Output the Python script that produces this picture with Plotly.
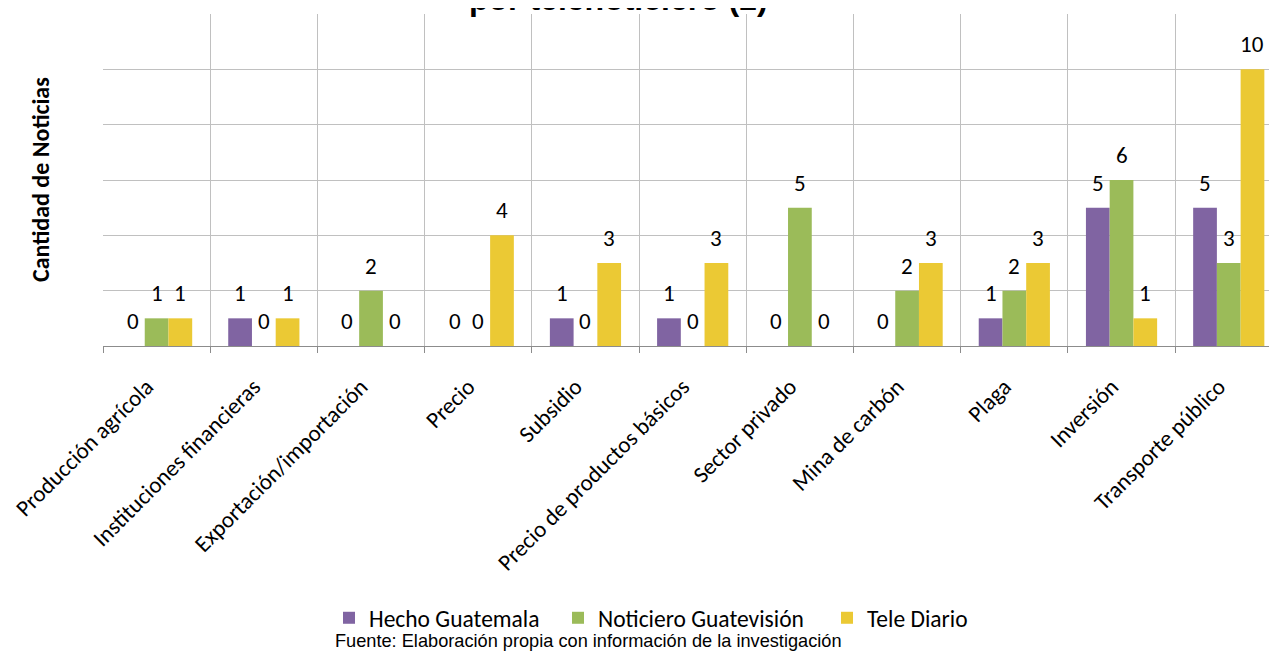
import plotly.graph_objects as go

categories = ["Producción agrícola", "Instituciones financieras", "Exportación/importación",
              "Precio", "Subsidio", "Precio de productos básicos", "Sector privado",
              "Mina de carbón", "Plaga", "Inversión", "Transporte público"]
series_names = ["Hecho Guatemala", "Noticiero Guatevisión", "Tele Diario"]
hecho_guatemala = [0, 1, 0, 0, 1, 1, 0, 0, 1, 5, 5]
noticiero_guatevision = [1, 0, 2, 0, 0, 0, 5, 2, 2, 6, 3]
tele_diario = [1, 1, 0, 4, 3, 3, 0, 3, 3, 1, 10]
colors = ["#8064A2", "#9BBB59", "#EBC934"]
legend_widths = [184, 224, 110]

title_text = "<b>por telenoticiero (2)</b>"
y_title = "<b>Cantidad de Noticias</b>"
source_text = "Fuente: Elaboración propia con información de la investigación"

OFF = 8  # default page body margin
W, H = 1277 - OFF, 654 - OFF
ML, MR, MT, MB = 103 - OFF, 0, 14 - OFF, 654 - 346
BARGAP = 0.336
XRANGE = [-0.5, 10.45]

CAL = "Calibri, Carlito, Lato, sans-serif"
ARIAL = "Arial, Liberation Sans, sans-serif"

fig = go.Figure()
all_series = [hecho_guatemala, noticiero_guatevision, tele_diario]
for name, vals, col, lw in zip(series_names, all_series, colors, legend_widths):
    fig.add_trace(go.Bar(x=categories, y=vals, name=name, legendwidth=lw,
                         marker=dict(color=col, line=dict(width=0))))

plot_w = W - ML - MR
plot_h = H - MT - MB
cat_w = plot_w / (XRANGE[1] - XRANGE[0])
bar_w = cat_w * (1 - BARGAP) / 3


def px_x(page_x):
    return (page_x - OFF - ML) / plot_w


def px_y(page_y):
    return (H - MB - (page_y - OFF)) / plot_h


annotations = []
for si, vals in enumerate(all_series):
    for c, v in zip(categories, vals):
        annotations.append(dict(x=c, y=v, xref="x", yref="y", text=str(v), showarrow=False,
                                xshift=(si - 1) * bar_w, yshift=25, yanchor="middle",
                                font=dict(family=CAL, size=23, color="#000000")))

annotations.append(dict(x=px_x(618), y=1, xref="paper", yref="paper", text=title_text,
                        showarrow=False, xanchor="center", yanchor="bottom", yshift=-5,
                        font=dict(family=ARIAL, size=32, color="#000000")))
annotations.append(dict(x=px_x(40), y=0.5, xref="paper", yref="paper", text=y_title,
                        showarrow=False, textangle=-90, xanchor="center", yanchor="middle",
                        font=dict(family=CAL, size=24, color="#000000")))
annotations.append(dict(x=px_x(588), y=px_y(641), xref="paper", yref="paper",
                        text=source_text, showarrow=False, xanchor="center", yanchor="middle",
                        font=dict(family=ARIAL, size=18.2, color="#000000")))

fig.update_layout(
    width=W, height=H,
    margin=dict(l=ML, r=MR, t=MT, b=MB),
    paper_bgcolor="white", plot_bgcolor="white",
    barmode="group", bargap=BARGAP, bargroupgap=0,
    showlegend=True,
    legend=dict(orientation="h", x=px_x(329), xanchor="left",
                y=px_y(618), yanchor="middle",
                font=dict(family=CAL, size=23.5, color="#000000"), bgcolor="rgba(0,0,0,0)"),
    annotations=annotations,
    xaxis=dict(type="category", range=XRANGE, tickson="boundaries", showgrid=True,
               gridcolor="#C0C0C0", gridwidth=1.3, showline=True, linecolor="#8C8C8C", linewidth=1.3,
               ticks="outside", ticklen=6, tickcolor="#8C8C8C", tickwidth=1.3, tickangle=-45,
               ticklabelshift=-10, ticklabelstandoff=17,
               tickfont=dict(family=CAL, size=23, color="#000000")),
    yaxis=dict(range=[0, 12], dtick=2, showticklabels=False, showgrid=True, gridcolor="#C0C0C0",
               gridwidth=1.3, zeroline=False, showline=False, ticks=""),
)

fig.write_html("out.html")
